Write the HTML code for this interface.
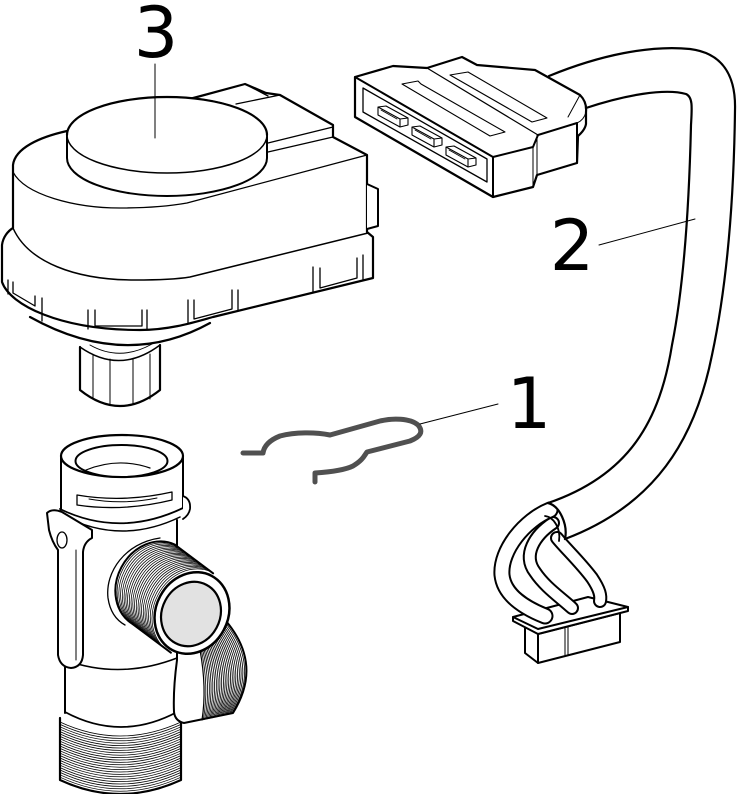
<!DOCTYPE html>
<html><head><meta charset="utf-8"><style>html,body{margin:0;padding:0;background:#fff;}svg{display:block}</style></head>
<body>
<svg width="737" height="794" viewBox="0 0 737 794" xmlns="http://www.w3.org/2000/svg">
<defs>
<path id="ring" d="M213.1,573.3 A45,38 -62 0 0 170.9,652.7"/>
<path id="bt" d="M60,722 Q120,750 181,722"/>
<g id="pin"><path d="M0,0 L8,-1 L30,11 L22,12 Z M22,12 L30,11 L30,18 L22,20 Z M0,0 L22,12 L22,20 L0,8 Z" fill="#fff" stroke-width="1.1"/><path d="M3,3 L19,12" stroke-width="0.8"/></g>
</defs>
<rect width="737" height="794" fill="#fff"/>
<g fill="none" stroke="#000" stroke-linejoin="round" stroke-linecap="round">

<!-- ===== ACTUATOR (3) ===== -->
<path d="M80,347 L80,390 Q120,422 160,390 L160,345" fill="#fff" stroke-width="2.2"/>
<path d="M80,347 Q120,375 160,345" stroke-width="1.5"/>
<path d="M90,345 Q120,362 152,344" stroke-width="1"/>
<path d="M93,355 L93,399 M110,359 L110,404 M133,359 L133,404 M150,354 L150,399" stroke-width="1"/>
<path d="M30,300 L30,317 Q125,370 210,323 L210,300 Z" fill="#fff" stroke="none"/>
<path d="M30,317 Q125,370 210,323" stroke-width="2.2"/>

<path d="M13,165 C15,148 40,137 67,131 L197,97 L245,84 L266,93 L280,95 L333,125 L333,137 L367,155 L367,232 L373,237 L373,278 L213,317 C195,322 170,330 140,330 C60,330 10,305 2,282 L2,245 C3,237 8,231 13,228 Z" fill="#fff" stroke-width="2.2"/>
<path d="M367,184 L378,189 L378,226 L367,229" fill="#fff" stroke-width="2"/>
<path d="M13,172 C25,195 75,208 120,208 C150,208 170,206 187,203 L367,155" stroke-width="1.3"/>
<path d="M13,228 C28,262 75,280 135,280 C165,280 178,279 190,277 L368,233" stroke-width="1.5"/>
<path d="M245,84 L268,96 M236,104 L280,95 M268,143 L333,127 M268,152 L333,137" stroke-width="1.3"/>
<g stroke-width="1.3">
<path d="M8,280 L8,294 M13,282 L13,293 L35,306 L35,296 M42,298 L42,321"/>
<path d="M88,310 L88,329 M95,310 L95,326 L142,326 L142,310 M147,310 L147,330"/>
<path d="M188,300 L188,323 M194,300 L194,319 L232,309 L232,290 M238,290 L238,311"/>
<path d="M313,267 L313,293 M320,268 L320,288 L357,278 L357,258 M363,255 L363,280"/>
</g>
<path d="M67,135 L67,158 A100,38 0 0 0 267,158 L267,135 Z" fill="#fff" stroke-width="2"/>
<ellipse cx="167" cy="135" rx="100" ry="38" fill="#fff" stroke-width="1.5"/>
<path d="M67,135 A100,38 0 0 1 267,135" stroke-width="2.2"/>
<line x1="155" y1="64" x2="155" y2="138" stroke-width="1"/>

<!-- ===== PLUG (2) ===== -->
<path d="M355,77 L393,66 L427,68 L462,57 L477,65 L535,70 L580,95 Q587,102 586,112 L586,124 Q585,130 578,136 L577,163 L537,175 L533,187 L493,197 L355,117 Z" fill="#fff" stroke-width="2.2"/>
<path d="M355,77 L493,157 L493,197" stroke-width="2"/>
<path d="M493,157 L533,147 L538,135 L577,123 L577,163" stroke-width="2"/>
<path d="M533,147 L533,187 M537,135 L537,175" stroke-width="1"/>
<path d="M580,95 L568,117 M577,123 Q584,120 586,112" stroke-width="1"/>
<path d="M427,68 L538,135" stroke-width="1.2"/>
<path d="M402,84 L418,81 L421,84 L505,132 L490,136 Z" stroke-width="1.1"/>
<path d="M450,75 L468,72 L547,118 L532,122 Z" stroke-width="1.1"/>
<path d="M363,88 L363,112 L487,182 L487,159 Z" stroke-width="1.3"/>
<use href="#pin" transform="translate(378,107)"/>
<use href="#pin" transform="translate(412,127)"/>
<use href="#pin" transform="translate(446,147)"/>

<!-- ===== bottom connector ===== -->
<path d="M525,625 L525,653 L538,663 L538,634 Z" fill="#fff" stroke-width="2"/>
<path d="M538,634 L538,663 L620,642 L620,613 Z" fill="#fff" stroke-width="2"/>
<path d="M565,628 L565,656 M568,627 L568,655" stroke-width="1"/>
<path d="M513,617 L513,621 L538,634 L628,611 L628,607" fill="#fff" stroke-width="2"/>
<path d="M513,617 L588,597 L628,607 L538,629 Z" fill="#fff" stroke-width="2"/>

<!-- wires -->
<path d="M557,538 C565,548 580,562 592,578 C600,590 601,596 600,601" stroke-width="14"/>
<path d="M557,538 C565,548 580,562 592,578 C600,590 601,596 600,601" stroke="#fff" stroke-width="10"/>
<path d="M553,523 C535,535 522,555 535,572 C545,587 560,597 572,608" stroke-width="14"/>
<path d="M553,523 C535,535 522,555 535,572 C545,587 560,597 572,608" stroke="#fff" stroke-width="10"/>
<path d="M550,510 C525,520 500,550 502,575 C504,595 525,608 545,616" stroke-width="17"/>
<path d="M550,510 C525,520 500,550 502,575 C504,595 525,608 545,616" stroke="#fff" stroke-width="13"/>

<!-- cable -->
<path d="M548,503 C560,506 568,525 565,539 L600,525 L580,480 Z" fill="#fff" stroke="none"/>
<path d="M549,76 C600,55 650,45 690,49 C722,53 736,75 735,110 C734,190 728,280 712,355 C695,440 655,505 565,539" stroke-width="2.2"/>
<path d="M586,108 C625,95 665,88 686,94 C693,97 692,108 691,125 C689,210 683,290 672,345 C660,420 630,475 548,503" stroke-width="2.2"/>
<path d="M548,503 C560,506 568,525 565,539" stroke-width="2.2"/>
<path d="M545,516 C554,517 561,529 559,541" stroke-width="1.8"/>
<line x1="599" y1="245" x2="695" y2="219" stroke-width="1"/>

<!-- ===== CLIP (1) ===== -->
<path d="M243,453 L263,453 C264,446 270,440 280,436 C295,432 315,432 330,435 L380,421 C392,418 410,418 418,425 C424,432 420,437 410,441 L367,452 C364,456 363,460 353,466 C345,470 330,472 315,473 L315,482" stroke="#505050" stroke-width="5"/>
<line x1="420" y1="424" x2="498" y2="404" stroke-width="1"/>

<!-- ===== VALVE ===== -->
<path d="M60,718 L60,780 Q120,808 181,780 L181,716 Z" fill="#fff" stroke="none"/>
<g stroke-width="0.75">
<use href="#bt"/>
<use href="#bt" transform="translate(0,2.4)"/><use href="#bt" transform="translate(0,4.8)"/><use href="#bt" transform="translate(0,7.2)"/><use href="#bt" transform="translate(0,9.6)"/><use href="#bt" transform="translate(0,12)"/><use href="#bt" transform="translate(0,14.4)"/><use href="#bt" transform="translate(0,16.8)"/><use href="#bt" transform="translate(0,19.2)"/><use href="#bt" transform="translate(0,21.6)"/><use href="#bt" transform="translate(0,24)"/><use href="#bt" transform="translate(0,26.4)"/><use href="#bt" transform="translate(0,28.8)"/><use href="#bt" transform="translate(0,31.2)"/><use href="#bt" transform="translate(0,33.6)"/><use href="#bt" transform="translate(0,36)"/><use href="#bt" transform="translate(0,38.4)"/><use href="#bt" transform="translate(0,40.8)"/><use href="#bt" transform="translate(0,43.2)"/><use href="#bt" transform="translate(0,45.6)"/><use href="#bt" transform="translate(0,48)"/><use href="#bt" transform="translate(0,50.4)"/><use href="#bt" transform="translate(0,52.8)"/><use href="#bt" transform="translate(0,55.2)"/><use href="#bt" transform="translate(0,57.6)"/>
</g>
<path d="M60,718 L60,780 Q120,808 181,780 L181,716" stroke-width="2.2"/>
<rect x="65" y="505" width="112" height="212" fill="#fff" stroke="none"/>
<path d="M65,655 L65,713 M177,520 L177,716" stroke-width="2"/>
<path d="M65,712 Q121,742 177,712" stroke-width="1.8"/>
<path d="M65,660 Q120,680 177,658" stroke-width="1.5"/>

<!-- rear outlet -->
<path d="M177,660 Q190,656 200,650 L226,621 Q263,665 233,713 L184,723 Q175,721 174,712 Q173,690 177,660 Z" fill="#fff" stroke="none"/>
<g stroke-width="0.8">
<path d="M201.1,648.8 Q209.35,687.05 203.3,719.7"/>
<path d="M202.2,647.6 Q211.7,686.1 204.6,719.4"/>
<path d="M203.25,646.4 Q214,685.15 205.9,719.1"/>
<path d="M204.3,645.2 Q216.3,684.2 207.2,718.8"/>
<path d="M205.4,644 Q218.65,683.25 208.5,718.55"/>
<path d="M206.5,642.8 Q221,682.3 209.8,718.3"/>
<path d="M207.6,641.55 Q223.35,681.3 211.05,718"/>
<path d="M208.7,640.3 Q225.7,680.3 212.3,717.7"/>
<path d="M209.75,639.1 Q228,679.35 213.6,717.4"/>
<path d="M210.8,637.9 Q230.3,678.4 214.9,717.1"/>
<path d="M211.9,636.7 Q232.65,677.45 216.2,716.8"/>
<path d="M213,635.5 Q235,676.5 217.5,716.5"/>
<path d="M214.1,634.3 Q237.35,675.55 218.8,716.2"/>
<path d="M215.2,633.1 Q239.7,674.6 220.1,715.9"/>
<path d="M216.25,631.9 Q242,673.65 221.4,715.6"/>
<path d="M217.3,630.7 Q244.3,672.7 222.7,715.3"/>
<path d="M218.4,629.5 Q246.65,671.75 224,715.05"/>
<path d="M219.5,628.3 Q249,670.8 225.3,714.8"/>
<path d="M220.6,627.05 Q251.35,669.8 226.55,714.5"/>
<path d="M221.7,625.8 Q253.7,668.8 227.8,714.2"/>
<path d="M222.75,624.6 Q256,667.85 229.1,713.9"/>
<path d="M223.8,623.4 Q258.3,666.9 230.4,713.6"/>
<path d="M224.9,622.2 Q260.65,665.95 231.7,713.3"/>
</g>
<path d="M226,621 Q263,665 233,713 L184,723 Q175,721 174,712 Q173,690 177,660" stroke-width="2"/>
<path d="M200,650 Q207,688 202,720" stroke-width="1.2"/>

<!-- top cylinder & collar -->
<path d="M61,456 L61,512 Q122,546 183,512 L183,456 Z" fill="#fff" stroke="none"/>
<path d="M61,456 L61,510 M183,456 L183,508" stroke-width="2"/>
<path d="M60,509 Q120,538 183,508" stroke-width="1.8"/>
<path d="M62,515 Q120,546 180,517" stroke-width="1.5"/>
<ellipse cx="122" cy="456" rx="61" ry="21" fill="#fff" stroke-width="2.2"/>
<ellipse cx="121.5" cy="461" rx="46" ry="16" fill="#fff" stroke-width="2"/>
<path d="M86,470 Q118,457 150,468" stroke-width="1.2"/>
<path d="M77,495 Q123,503 172,492 L172,500 Q123,512 77,505 Z" stroke-width="1.3"/>
<path d="M89,499 Q123,505 157,498" stroke-width="1"/>
<path d="M183,496 Q191,499 190,509 Q189,515 183,519" fill="#fff" stroke-width="1.8"/>
<!-- left tab / rib -->
<path d="M47,513 Q52,508 62,512 L92,530 L92,538 Q84,542 83,552 L83,655 Q82,667 71,668 Q60,667 58,655 L58,550 Q52,542 49,530 Z" fill="#fff" stroke-width="2"/>
<ellipse cx="62" cy="540" rx="5" ry="8" stroke-width="1.3"/>
<path d="M76,550 L76,660" stroke-width="1"/>

<!-- front outlet -->
<path d="M160,538 C125,543 105,572 108,598 C110,612 116,620 125,625 L171,653 L214,573 Z" fill="#fff" stroke="none"/>
<path d="M160,538 C125,543 105,572 108,598 C110,612 116,620 125,625" stroke-width="1.3"/>
<path d="M213.1,573.3 L174.7,544.5 A45,38 -62 0 0 132.5,623.9 L170.9,652.7 A45,38 -62 0 1 213.1,573.3 Z" fill="#fff" stroke="none"/>
<g stroke-width="0.75">
<use href="#ring" transform="translate(-1.75,-1.31)"/><use href="#ring" transform="translate(-3.49,-2.62)"/><use href="#ring" transform="translate(-5.24,-3.93)"/><use href="#ring" transform="translate(-6.98,-5.24)"/><use href="#ring" transform="translate(-8.73,-6.55)"/><use href="#ring" transform="translate(-10.47,-7.85)"/><use href="#ring" transform="translate(-12.22,-9.16)"/><use href="#ring" transform="translate(-13.96,-10.47)"/><use href="#ring" transform="translate(-15.71,-11.78)"/><use href="#ring" transform="translate(-17.45,-13.09)"/><use href="#ring" transform="translate(-19.2,-14.4)"/><use href="#ring" transform="translate(-20.94,-15.71)"/><use href="#ring" transform="translate(-22.69,-17.02)"/><use href="#ring" transform="translate(-24.43,-18.33)"/><use href="#ring" transform="translate(-26.18,-19.64)"/><use href="#ring" transform="translate(-27.92,-20.94)"/><use href="#ring" transform="translate(-29.67,-22.25)"/><use href="#ring" transform="translate(-31.41,-23.56)"/><use href="#ring" transform="translate(-33.16,-24.87)"/><use href="#ring" transform="translate(-34.9,-26.18)"/><use href="#ring" transform="translate(-36.65,-27.49)"/>
</g>
<use href="#ring" transform="translate(-38.4,-28.8)" stroke-width="2"/>
<path d="M213.1,573.3 L174.7,544.5 M170.9,652.7 L132.5,623.9" stroke-width="2"/>
<ellipse cx="192" cy="613" rx="42" ry="36" transform="rotate(-62 192 613)" fill="#fff" stroke-width="2.5"/>
<ellipse cx="191" cy="614" rx="33" ry="29" transform="rotate(-62 191 614)" fill="#e2e2e2" stroke-width="2.2"/>
</g>

<g font-family="'DejaVu Sans', 'Liberation Sans', sans-serif" font-size="70" fill="#000" text-anchor="middle">
<text x="156" y="57">3</text>
<text x="572" y="270">2</text>
<text x="529" y="428">1</text>
</g>
</svg>
</body></html>
